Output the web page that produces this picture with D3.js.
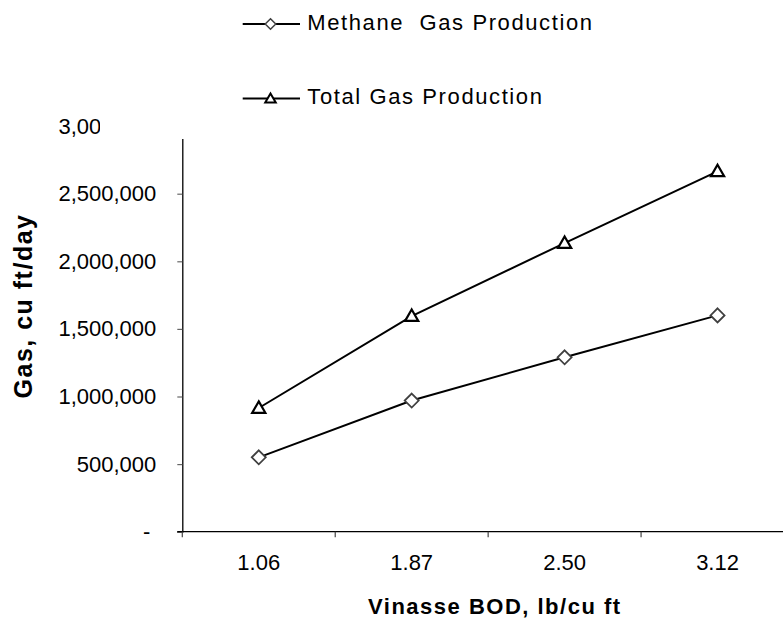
<!DOCTYPE html>
<html>
<head>
<meta charset="utf-8">
<script src="https://cdn.jsdelivr.net/npm/d3@7"></script>
<style>
  html, body { margin: 0; padding: 0; background: #fff; }
  svg { display: block; font-family: Arial, "Liberation Sans", sans-serif; }
</style>
</head>
<body>
<svg id="chart" width="783" height="619"></svg>
<script>
// Vinasse BOD loading (lb/cu ft) vs. gas production (cu ft/day)
const categories = ["1.06", "1.87", "2.50", "3.12"];
const methaneGas = [550000, 970000, 1290000, 1600000];
const totalGas = [915000, 1595000, 2135000, 2665000];
const yTicks = [0, 500000, 1000000, 1500000, 2000000, 2500000, 3000000];
const seriesNames = ["Methane  Gas Production", "Total Gas Production"];

(function draw() {
  const svg = d3.select("#chart");
  svg.append("rect").attr("width", 783).attr("height", 619).attr("fill", "#fff");

  const plotLeft = 182.3, plotRight = 794, plotTop = 126.1, plotBottom = 531.7;

  const x = d3.scaleBand().domain(categories).range([plotLeft, plotRight]).padding(0);
  const y = d3.scaleLinear().domain([0, 3000000]).range([plotBottom, plotTop]);
  const cx = c => x(c) + x.bandwidth() / 2;

  const fmt = d3.format(",");

  // Y axis
  const yAxis = svg.append("g")
    .attr("transform", `translate(${plotLeft},0)`)
    .call(d3.axisLeft(y).tickValues(yTicks).tickSize(5).tickPadding(21)
      .tickFormat(d => d === 0 ? "-" : fmt(d)));
  yAxis.select(".domain").attr("stroke", "#000").attr("stroke-width", 1.3);
  yAxis.selectAll(".tick line").attr("stroke", "#666").attr("stroke-width", 1.2);
  yAxis.selectAll(".tick text").attr("font-size", 22).attr("fill", "#000")
    .attr("font-family", "Arial, 'Liberation Sans', sans-serif");
  yAxis.selectAll(".tick text").filter(d => d === 0).attr("dx", -6);

  // X axis: labels centred in each category, tick marks on category boundaries
  const xAxis = svg.append("g")
    .attr("transform", `translate(0,${plotBottom})`)
    .call(d3.axisBottom(x).tickSize(0).tickPadding(23).tickSizeOuter(0));
  xAxis.select(".domain").attr("stroke", "#000").attr("stroke-width", 1.3)
    .attr("d", `M${plotLeft - 5},0H${plotRight}`);
  xAxis.selectAll(".tick text").attr("font-size", 22).attr("fill", "#000")
    .attr("font-family", "Arial, 'Liberation Sans', sans-serif");
  xAxis.selectAll("line.bound")
    .data(categories)
    .join("line")
    .attr("class", "bound")
    .attr("x1", d => x(d)).attr("x2", d => x(d))
    .attr("y1", 0).attr("y2", 5.5)
    .attr("stroke", "#444").attr("stroke-width", 1.2);

  // Series lines and markers
  const line = d3.line().x((d, i) => cx(categories[i])).y(d => y(d));

  svg.append("path").datum(totalGas).attr("d", line)
    .attr("fill", "none").attr("stroke", "#000").attr("stroke-width", 2);
  svg.append("path").datum(methaneGas).attr("d", line)
    .attr("fill", "none").attr("stroke", "#000").attr("stroke-width", 2);

  const triangle = d3.symbol().type(d3.symbolTriangle).size(75);
  const diamond = "M0,-7L7,0L0,7L-7,0Z";

  svg.selectAll("path.tri").data(totalGas).join("path")
    .attr("class", "tri")
    .attr("d", triangle)
    .attr("transform", (d, i) => `translate(${cx(categories[i])},${y(d) + 1})`)
    .attr("fill", "#fff").attr("stroke", "#000").attr("stroke-width", 2.2);

  svg.selectAll("path.dia").data(methaneGas).join("path")
    .attr("class", "dia")
    .attr("d", diamond)
    .attr("transform", (d, i) => `translate(${cx(categories[i])},${y(d)})`)
    .attr("fill", "#fff").attr("stroke", "#404040").attr("stroke-width", 1.8);

  // Legend (white box over the top of the plot)
  const legend = svg.append("g");
  legend.append("rect").attr("x", 100).attr("y", 0).attr("width", 540).attr("height", 139)
    .attr("fill", "#fff");

  const legendRows = [
    { name: seriesNames[0], ly: 24, ty: 29.5, marker: diamond, dy: 0, stroke: "#404040", sw: 1.5, scale: 0.75 },
    { name: seriesNames[1], ly: 98.5, ty: 104, marker: triangle(), dy: 1, stroke: "#000", sw: 2, scale: 0.8 }
  ];
  legendRows.forEach(r => {
    legend.append("line").attr("x1", 242.7).attr("x2", 300).attr("y1", r.ly).attr("y2", r.ly)
      .attr("stroke", "#000").attr("stroke-width", 2);
    legend.append("path").attr("d", r.marker)
      .attr("transform", `translate(270.5,${r.ly + r.dy}) scale(${r.scale})`)
      .attr("fill", "#fff").attr("stroke", r.stroke).attr("stroke-width", r.sw / r.scale);
    legend.append("text").attr("x", 307.3).attr("y", r.ty)
      .attr("font-size", 22).attr("letter-spacing", 1.6).attr("fill", "#000")
      .style("white-space", "pre")
      .text(r.name);
  });

  // Axis titles
  svg.append("text")
    .attr("transform", `translate(32,306) rotate(-90)`)
    .attr("text-anchor", "middle")
    .attr("font-size", 25).attr("font-weight", "bold").attr("letter-spacing", 1.5)
    .text("Gas, cu ft/day");

  svg.append("text")
    .attr("x", 368).attr("y", 614)
    .attr("font-size", 22).attr("font-weight", "bold").attr("letter-spacing", 1.5)
    .text("Vinasse BOD, lb/cu ft");
})();
</script>
</body>
</html>
